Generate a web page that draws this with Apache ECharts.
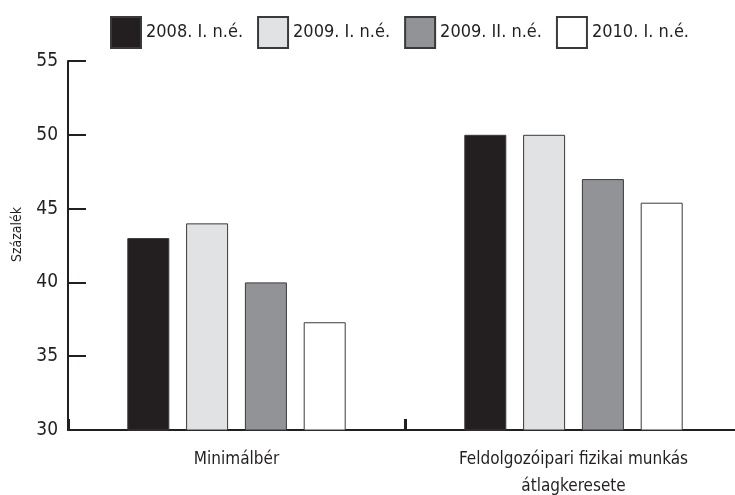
<!DOCTYPE html>
<html>
<head>
<meta charset="utf-8">
<script src="https://cdn.jsdelivr.net/npm/echarts@6/dist/echarts.min.js"></script>
<style>
  html, body { margin: 0; padding: 0; background: #fff; overflow: hidden; }
  #chartContainer { width: 735px; height: 495px; }
</style>
</head>
<body>
<div id="chartContainer"></div>
<script>
var categories = ['Minimálbér', 'Feldolgozóipari fizikai munkás\nátlagkeresete'];
var seriesNames = ['2008. I. n.é.', '2009. I. n.é.', '2009. II. n.é.', '2010. I. n.é.'];
var values2008I = [43.0, 50.0];
var values2009I = [44.0, 50.0];
var values2009II = [40.0, 47.0];
var values2010I = [37.3, 45.4];
var colors = ['#231f20', '#e1e2e4', '#929396', '#ffffff'];

var font = '"DejaVu Sans Condensed", "Liberation Sans Narrow", sans-serif';
var ink = '#231f20';

var chart = echarts.init(document.getElementById('chartContainer'));

var allValues = [values2008I, values2009I, values2009II, values2010I];
var series = [];
for (var i = 0; i < seriesNames.length; i++) {
    series.push({
        name: seriesNames[i],
        type: 'bar',
        data: allValues[i],
        barWidth: 42,
        barGap: '40%',
        itemStyle: {
            color: colors[i],
            borderColor: '#3a3a3a',
            borderWidth: 1
        }
    });
}

chart.setOption({
    animation: false,
    textStyle: { fontFamily: font },
    legend: {
        top: 11,
        left: 105,
        itemWidth: 30,
        itemHeight: 31,
        itemGap: 14,
        icon: 'rect',
        textStyle: { fontSize: 18, color: ink, fontFamily: font },
        data: seriesNames
    },
    grid: {
        left: 68,
        top: 61,
        height: 369,
        width: 674,
        outerBoundsMode: 'none',
        containLabel: false
    },
    xAxis: {
        type: 'category',
        data: categories,
        axisLine: { lineStyle: { color: ink, width: 2 } },
        axisTick: { show: true, inside: true, interval: 0, alignWithLabel: false, length: 11, lineStyle: { color: ink, width: 3 } },
        axisLabel: { color: ink, fontSize: 17, margin: 16, lineHeight: 27, fontFamily: font }
    },
    yAxis: {
        type: 'value',
        min: 30,
        max: 55,
        interval: 5,
        name: 'Százalék',
        nameLocation: 'middle',
        nameGap: 44,
        nameTextStyle: { fontSize: 14, color: ink, fontFamily: font, padding: [0, 0, 0, 22] },
        axisLine: { show: true, lineStyle: { color: ink, width: 2 } },
        axisTick: { show: true, inside: true, length: 18, lineStyle: { color: ink, width: 2 } },
        axisLabel: { color: ink, fontSize: 19, margin: 10, fontFamily: font },
        splitLine: { show: false }
    },
    series: series
});
</script>
</body>
</html>
